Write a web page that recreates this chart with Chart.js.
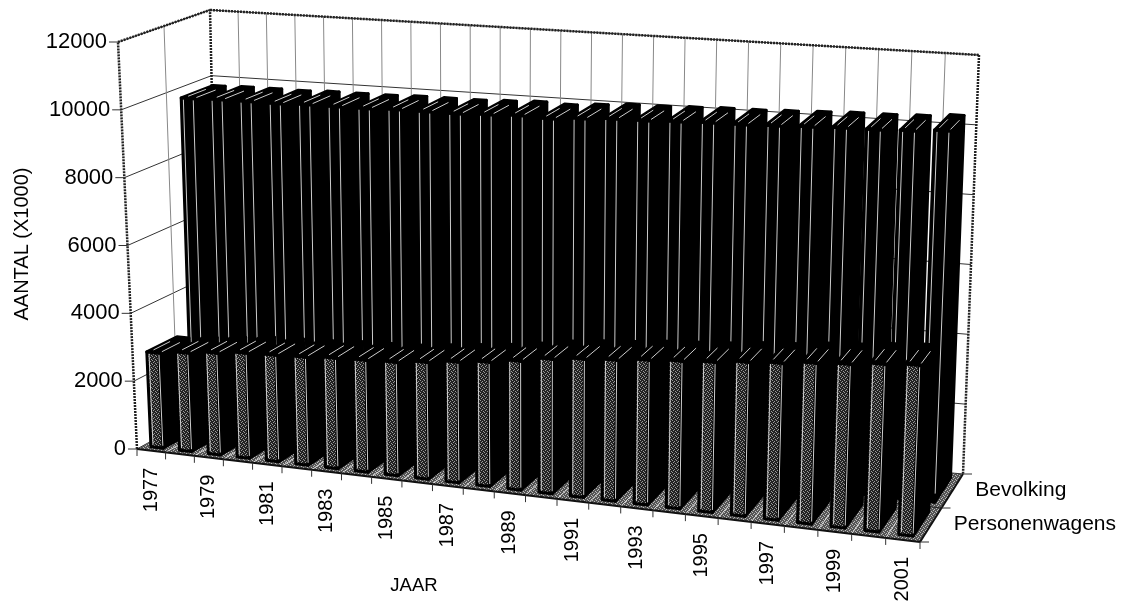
<!DOCTYPE html>
<html>
<head>
<meta charset="utf-8">
<style>
  html, body { margin: 0; background: #fff; }
  canvas { display: block; }
</style>
<script src="https://cdn.jsdelivr.net/npm/chart.js@4"></script>
</head>
<body>
<canvas id="grafiek" width="1130" height="603"></canvas>
<script>
const jaren = ['1977', '1978', '1979', '1980', '1981', '1982', '1983', '1984', '1985', '1986', '1987', '1988', '1989',
  '1990', '1991', '1992', '1993', '1994', '1995', '1996', '1997', '1998', '1999', '2000', '2001']
const series = ['Personenwagens', 'Bevolking']
const personenwagens = [2800, 2890, 2975, 3065, 3095, 3125, 3185, 3215, 3245, 3335, 3430, 3515, 3635,
  3780, 3870, 3930, 4020, 4080, 4140, 4230, 4290, 4385, 4445, 4535, 4595]
const bevolking = [9790, 9815, 9820, 9815, 9845, 9845, 9850, 9880, 9880, 9880, 9915, 9950, 9920,
  9985, 10040, 10050, 10085, 10115, 10125, 10155, 10190, 10225, 10235, 10270, 10335]

const FONT = '"Liberation Sans", Arial, sans-serif'

// hoekpunten van de 3D-doos op het scherm: [voor/achter][links/rechts][onder/boven]
const doos = {
  vlo: [137, 449], vro: [920, 542], alo: [219, 404], aro: [963, 474],
  vlb: [118, 42], vrb: [938, 94], alb: [210, 10], arb: [979, 55]
}
const K_PERSPECTIEF = 1.1
const BALK_DIEPTE = 0.18

function mix(a, b, t) {
  return [a[0] + (b[0] - a[0]) * t, a[1] + (b[1] - a[1]) * t]
}

// u = langs de jaren, v = diepte, w = hoogte (alles 0..1)
function proj(u, v, w) {
  const s = u / (u + K_PERSPECTIEF * (1 - u))
  const onder = mix(mix(doos.vlo, doos.vro, s), mix(doos.alo, doos.aro, s), v)
  const boven = mix(mix(doos.vlb, doos.vrb, s), mix(doos.alb, doos.arb, s), v)
  return mix(onder, boven, w)
}

function lijn(ctx, a, b) {
  ctx.beginPath()
  ctx.moveTo(a[0], a[1])
  ctx.lineTo(b[0], b[1])
  ctx.stroke()
}

function vlak(ctx, punten) {
  ctx.beginPath()
  punten.forEach((p, i) => i ? ctx.lineTo(p[0], p[1]) : ctx.moveTo(p[0], p[1]))
  ctx.closePath()
}

// gerasterd grijs zoals in de scan
function raster(ctx, donker, licht) {
  const c = document.createElement('canvas')
  c.width = c.height = 4
  const g = c.getContext('2d')
  g.fillStyle = donker
  g.fillRect(0, 0, 4, 4)
  g.fillStyle = licht
  ;[[0, 0], [2, 1], [1, 2], [3, 3]].forEach(p => g.fillRect(p[0], p[1], 1, 1))
  return ctx.createPattern(c, 'repeat')
}

function uVan(chart, px) {
  return (px - chart.chartArea.left) / chart.chartArea.width
}

function wVan(chart, py) {
  return (chart.chartArea.bottom - py) / chart.chartArea.height
}

function vVan(chart, index) {
  const z = chart.scales.z
  return (z.getPixelForValue(index) - z.left) / z.width
}

const assen3d = {
  id: 'assen3d',
  beforeDatasetsDraw(chart) {
    const ctx = chart.ctx
    const x = chart.scales.x
    const y = chart.scales.y
    ctx.save()

    // vloer
    vlak(ctx, [proj(0, 0, 0), proj(1, 0, 0), proj(1, 1, 0), proj(0, 1, 0)])
    ctx.fillStyle = raster(ctx, '#555', '#bbb')
    ctx.fill()
    ctx.strokeStyle = '#ddd'
    ctx.lineWidth = 1
    for (let i = 0; i <= jaren.length; i++) {
      const u = i / jaren.length
      lijn(ctx, proj(u, 0, 0), proj(u, 1, 0))
    }
    ctx.strokeStyle = '#222'
    lijn(ctx, proj(0, 0.5, 0), proj(1, 0.5, 0))

    // rasterlijnen op de wanden
    ctx.strokeStyle = '#333'
    ctx.lineWidth = 1
    y.ticks.forEach(t => {
      const w = wVan(chart, y.getPixelForValue(t.value))
      lijn(ctx, proj(0, 0, w), proj(0, 1, w))
      lijn(ctx, proj(0, 1, w), proj(1, 1, w))
    })
    ctx.strokeStyle = '#888'
    for (let i = 1; i < jaren.length; i++) {
      const u = i / jaren.length
      lijn(ctx, proj(u, 1, 0), proj(u, 1, 1))
    }
    lijn(ctx, proj(0, 0.5, 0), proj(0, 0.5, 1))

    // kader
    ctx.strokeStyle = '#222'
    ctx.lineWidth = 2.5
    ctx.setLineDash([2, 1])
    lijn(ctx, proj(0, 0, 0), proj(0, 0, 1))
    lijn(ctx, proj(0, 0, 1), proj(0, 1, 1))
    lijn(ctx, proj(0, 1, 0), proj(0, 1, 1))
    lijn(ctx, proj(0, 1, 1), proj(1, 1, 1))
    lijn(ctx, proj(1, 1, 1), proj(1, 1, 0))
    ctx.setLineDash([])
    ctx.strokeStyle = '#111'
    ctx.lineWidth = 2
    lijn(ctx, proj(0, 0, 0), proj(1, 0, 0))
    lijn(ctx, proj(1, 0, 0), proj(1, 1, 0))

    // streepjes
    ctx.strokeStyle = '#333'
    ctx.lineWidth = 1
    y.ticks.forEach(t => {
      const p = proj(0, 0, wVan(chart, y.getPixelForValue(t.value)))
      lijn(ctx, [p[0] - 9, p[1]], p)
    })
    for (let i = 0; i <= jaren.length; i++) {
      const p = proj(i / jaren.length, 0, 0)
      lijn(ctx, p, [p[0], p[1] + 7])
    }
    ;[0, 0.5, 1].forEach(v => {
      const p = proj(1, v, 0)
      lijn(ctx, p, [p[0] + 9, p[1]])
    })

    // teksten
    ctx.fillStyle = '#000'
    ctx.font = '22px ' + FONT
    ctx.textAlign = 'right'
    ctx.textBaseline = 'middle'
    y.ticks.forEach(t => {
      const p = proj(0, 0, wVan(chart, y.getPixelForValue(t.value)))
      ctx.fillText(t.label, p[0] - 11, p[1])
    })
    ctx.font = '20px ' + FONT
    x.ticks.forEach((t, i) => {
      if (i % 2) return
      const p = proj(uVan(chart, x.getPixelForTick(i)), 0, 0)
      ctx.save()
      ctx.translate(p[0], p[1] + 17)
      ctx.rotate(-Math.PI / 2)
      ctx.fillText(x.getLabelForValue(t.value), 0, 0)
      ctx.restore()
    })
    ctx.font = '21px ' + FONT
    ctx.textAlign = 'left'
    const z = chart.scales.z
    z.ticks.forEach((t, i) => {
      const p = proj(1, vVan(chart, i), 0)
      ctx.fillText(z.getLabelForValue(t.value), p[0] + 23, p[1] - 1)
    })
    ctx.textAlign = 'center'
    ctx.font = '18.5px ' + FONT
    ctx.fillText('JAAR', 414, 586)
    ctx.font = '20px ' + FONT
    ctx.save()
    ctx.translate(22, 244)
    ctx.rotate(-Math.PI / 2)
    ctx.fillText('AANTAL (X1000)', 0, 0)
    ctx.restore()
    ctx.restore()
  },
  // de balken zelf tekenen we als blokken, in plaats van plat
  beforeDatasetDraw(chart, args) {
    const ctx = chart.ctx
    const vm = vVan(chart, args.index)
    const v0 = vm - BALK_DIEPTE
    const v1 = vm + BALK_DIEPTE
    const voorkant = args.index === 0 ? raster(ctx, '#222', '#999') : '#000'
    ctx.save()
    ctx.lineJoin = 'round'
    args.meta.data.forEach(el => {
      const u0 = uVan(chart, el.x - el.width / 2)
      const u1 = uVan(chart, el.x + el.width / 2)
      const w = wVan(chart, el.y)
      ctx.strokeStyle = '#000'
      ctx.lineWidth = 3
      ctx.fillStyle = '#000'
      vlak(ctx, [proj(u1, v0, 0), proj(u1, v1, 0), proj(u1, v1, w), proj(u1, v0, w)])
      ctx.fill()
      ctx.stroke()
      vlak(ctx, [proj(u0, v0, w), proj(u1, v0, w), proj(u1, v1, w), proj(u0, v1, w)])
      ctx.fill()
      ctx.stroke()
      vlak(ctx, [proj(u0, v0, 0), proj(u1, v0, 0), proj(u1, v0, w), proj(u0, v0, w)])
      ctx.fillStyle = voorkant
      ctx.fill()
      ctx.stroke()
      // lichte randen
      ctx.strokeStyle = '#ccc'
      ctx.lineWidth = 1
      const b = args.index === 0 ? 0.006 : 0.02
      const d = v1 - v0
      const uL = u0 + 0.003
      lijn(ctx, proj(uL, v0, b), proj(uL, v0, w - 0.004))
      lijn(ctx, proj(u1, v0, b), proj(u1, v0, w - 0.004))
      lijn(ctx, proj(uL, v0 + d * 0.15, w), proj(uL, v0 + d * 0.7, w))
      lijn(ctx, proj(u1, v0 + d * 0.1, w), proj(u1, v0 + d * 0.7, w))
    })
    ctx.restore()
    return false
  }
}

new Chart(document.getElementById('grafiek'), {
  type: 'bar',
  data: {
    labels: jaren,
    datasets: [
      { label: series[0], data: personenwagens, backgroundColor: '#555', grouped: false, barPercentage: 0.42, categoryPercentage: 1 },
      { label: series[1], data: bevolking, backgroundColor: '#000', grouped: false, barPercentage: 0.42, categoryPercentage: 1 }
    ]
  },
  options: {
    responsive: false,
    animation: false,
    devicePixelRatio: 1,
    layout: { padding: 0 },
    plugins: { legend: { display: false }, title: { display: false }, tooltip: { enabled: false } },
    scales: {
      x: { display: false, offset: true, ticks: { autoSkip: false } },
      y: { display: false, min: 0, max: 12000, ticks: { stepSize: 2000, callback: v => String(v) } },
      z: { type: 'category', axis: 'x', display: false, labels: series, offset: true }
    }
  },
  plugins: [assen3d]
})
</script>
</body>
</html>
